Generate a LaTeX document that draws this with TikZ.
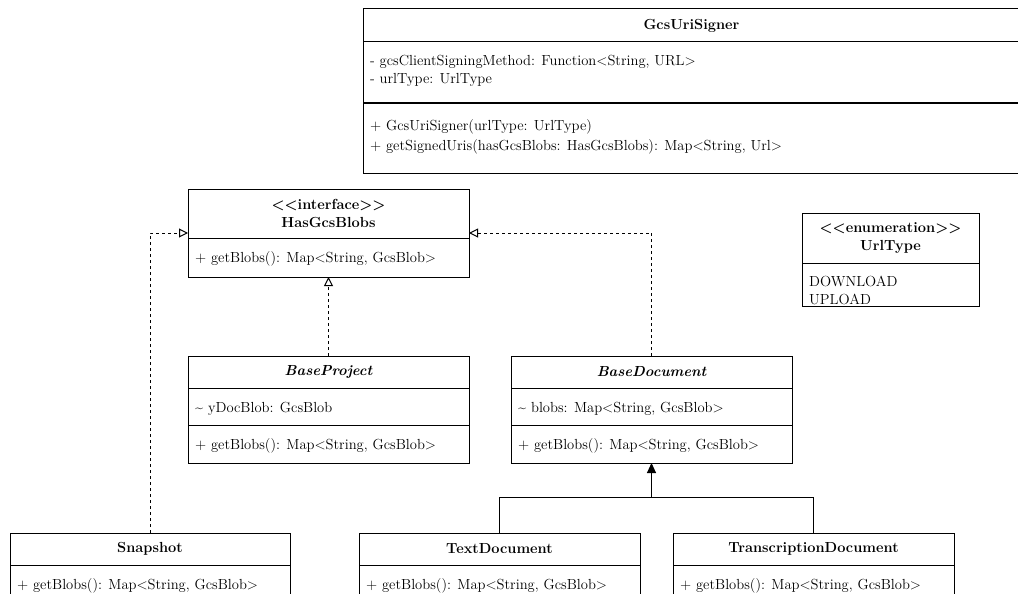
\documentclass[tikz,border=0pt]{standalone}
\usepackage{fontspec}
\usetikzlibrary{arrows.meta,fit}
\newcommand\umlsize{\rmfamily\fontsize{14.6}{18}\selectfont}
\newcommand\stereo[1]{<\kern0pt<#1>\kern0pt>}
\begin{document}
\begin{tikzpicture}[x=1pt,y=-1pt,font=\umlsize,
  part/.style={draw=black,line width=1pt,rectangle,anchor=north west,inner sep=0pt,outer sep=0pt},
  head/.style={part,font=\umlsize\bfseries,align=center},
  ahead/.style={head,font=\umlsize\bfseries\itshape},
  mem/.style={anchor=base west,inner sep=0pt,font=\umlsize},
  whole/.style={inner sep=0pt,outer sep=0pt,rectangle},
  realize/.style={line width=1pt,dash pattern=on 3pt off 3pt,-{Triangle[open,length=9pt,width=9pt]}},
  inherit/.style={line width=1pt,-{Triangle[length=10pt,width=9pt]}},
  link/.style={line width=1pt},
]
\clip (0,0) rectangle (1018,594);

% GcsUriSigner
\node[head,minimum width=657pt,minimum height=33pt] (gs-h) at (363,9) {GcsUriSigner};
\node[part,minimum width=657pt,minimum height=61pt] (gs-a) at (gs-h.south west) {};
\node[part,minimum width=657pt,minimum height=70pt] (gs-m) at (gs-a.south west) {};
\node[mem] (gs-a1) at ([shift={(7,24)}]gs-a.north west) {- gcsClientSigningMethod: Function<String, URL>};
\node[mem] (gs-a2) at ([shift={(7,42)}]gs-a.north west) {- urlType: UrlType};
\node[mem] (gs-m1) at ([shift={(7,28)}]gs-m.north west) {+ GcsUriSigner(urlType: UrlType)};
\node[mem] (gs-m2) at ([shift={(7,47)}]gs-m.north west) {+ getSignedUris(hasGcsBlobs: HasGcsBlobs): Map<String, Url>};

% HasGcsBlobs interface
\node[head,minimum width=281pt,minimum height=49pt] (hg-h) at (188,189) {\stereo{interface}\\HasGcsBlobs};
\node[part,minimum width=281pt,minimum height=39pt] (hg-m) at (hg-h.south west) {};
\node[mem] (hg-m1) at ([shift={(7,24)}]hg-m.north west) {+ getBlobs(): Map<String, GcsBlob>};
\node[whole,fit=(hg-h)(hg-m)] (hg) {};

% UrlType enumeration
\node[head,minimum width=177pt,minimum height=50pt] (ut-h) at (802,213) {\stereo{enumeration}\\UrlType};
\node[part,minimum width=177pt,minimum height=43pt] (ut-v) at (ut-h.south west) {};
\node[mem] (ut-v1) at ([shift={(7,23)}]ut-v.north west) {DOWNLOAD};
\node[mem] (ut-v2) at ([shift={(7,41)}]ut-v.north west) {UPLOAD};

% BaseProject
\node[ahead,minimum width=281pt,minimum height=32pt] (bp-h) at (188,356) {BaseProject};
\node[part,minimum width=281pt,minimum height=37pt] (bp-a) at (bp-h.south west) {};
\node[part,minimum width=281pt,minimum height=38pt] (bp-m) at (bp-a.south west) {};
\node[mem] (bp-a1) at ([shift={(7,24)}]bp-a.north west) {\textasciitilde{} yDocBlob: GcsBlob};
\node[mem] (bp-m1) at ([shift={(7,24)}]bp-m.north west) {+ getBlobs(): Map<String, GcsBlob>};

% BaseDocument
\node[ahead,minimum width=281pt,minimum height=32pt] (bd-h) at (511,356) {BaseDocument};
\node[part,minimum width=281pt,minimum height=37pt] (bd-a) at (bd-h.south west) {};
\node[part,minimum width=281pt,minimum height=38pt] (bd-m) at (bd-a.south west) {};
\node[mem] (bd-a1) at ([shift={(7,24)}]bd-a.north west) {\textasciitilde{} blobs: Map<String, GcsBlob>};
\node[mem] (bd-m1) at ([shift={(7,24)}]bd-m.north west) {+ getBlobs(): Map<String, GcsBlob>};

% Snapshot
\node[head,minimum width=280pt,minimum height=32pt] (sn-h) at (10,533) {Snapshot};
\node[part,minimum width=280pt,minimum height=45pt] (sn-m) at (sn-h.south west) {};
\node[mem] (sn-m1) at ([shift={(7,24)}]sn-m.north west) {+ getBlobs(): Map<String, GcsBlob>};

% TextDocument
\node[head,minimum width=281pt,minimum height=32pt] (td-h) at (359,533) {TextDocument};
\node[part,minimum width=281pt,minimum height=45pt] (td-m) at (td-h.south west) {};
\node[mem] (td-m1) at ([shift={(7,24)}]td-m.north west) {+ getBlobs(): Map<String, GcsBlob>};

% TranscriptionDocument
\node[head,minimum width=281pt,minimum height=32pt] (tr-h) at (673,533) {TranscriptionDocument};
\node[part,minimum width=281pt,minimum height=45pt] (tr-m) at (tr-h.south west) {};
\node[mem] (tr-m1) at ([shift={(7,24)}]tr-m.north west) {+ getBlobs(): Map<String, GcsBlob>};

% realizations of HasGcsBlobs
\draw[realize] (sn-h.north) |- (hg.west);
\draw[realize] (bd-h.north) |- (hg.east);
\draw[realize] (bp-h.north) -- (hg.south);

% generalization towards BaseDocument
\coordinate (join) at ([yshift=-34pt]bd-m.south);
\draw[link] (td-h.north) |- (join);
\draw[link] (tr-h.north) |- (join);
\draw[inherit] (join) -- (bd-m.south);
\end{tikzpicture}
\end{document}
